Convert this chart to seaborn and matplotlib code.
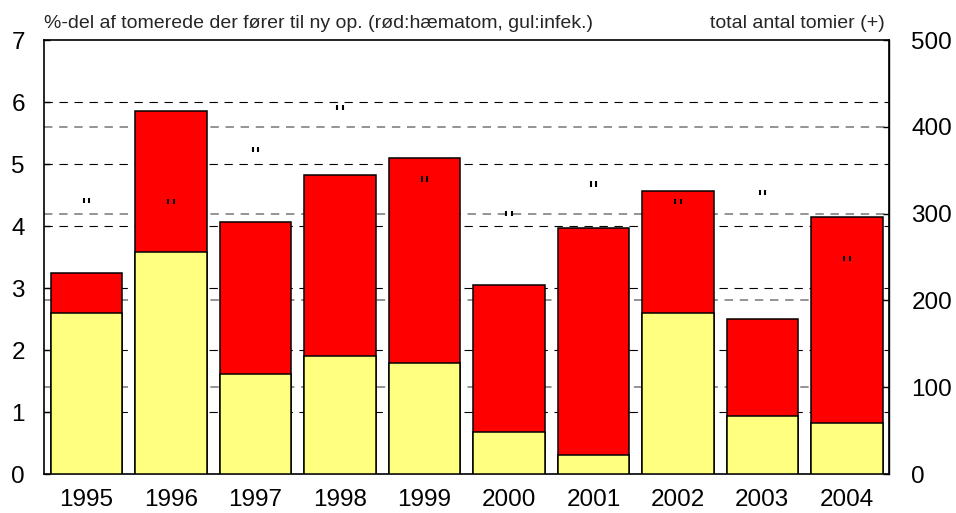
import numpy as np
import pandas as pd
import seaborn as sns
import matplotlib.pyplot as plt
from matplotlib.path import Path

years = ["1995", "1996", "1997", "1998", "1999", "2000", "2001", "2002", "2003", "2004"]
infek = [2.59, 3.58, 1.62, 1.91, 1.79, 0.67, 0.30, 2.59, 0.935, 0.82]
haematom = [0.65, 2.28, 2.45, 2.91, 3.30, 2.38, 3.66, 1.97, 1.57, 3.32]
tomier = [315, 314, 374, 422, 340, 300, 334, 314, 324, 248]

df = pd.DataFrame({"aar": years, "infek": infek, "haematom": haematom, "tomier": tomier})
df["total"] = df["infek"] + df["haematom"]

sns.set_style("white")
plt.rcParams["font.family"] = ["Liberation Sans", "DejaVu Sans"]

fig = plt.figure(figsize=(9.56, 5.13), dpi=100)
ax = fig.add_axes([0.0463, 0.076, 0.8837, 0.846])

# dashed gridlines, behind the bars
for v in range(1, 7):
    ax.axhline(v, color="black", lw=0.8, ls=(0, (7.5, 6)), zorder=0)
for v in np.arange(100, 500, 100) * 7 / 500:
    ax.axhline(v, color="#777777", lw=1.1, ls=(0, (5.5, 4.4)), zorder=0)

sns.barplot(data=df, x="aar", y="total", color="#ff0000", saturation=1,
            width=0.845, edgecolor="black", linewidth=1.1, ax=ax, zorder=2)
sns.barplot(data=df, x="aar", y="infek", color="#ffff80", saturation=1,
            width=0.845, edgecolor="black", linewidth=1.1, ax=ax, zorder=3)

ax.set_xlim(-0.5, len(years) - 0.5)
ax.set_ylim(0, 7)
ax.set_yticks(range(0, 8))
ax.set_xlabel("")
ax.set_ylabel("")
ax.tick_params(axis="y", direction="in", length=4, width=1, pad=14, labelsize=17.5, colors="black")
ax.tick_params(axis="x", length=0, pad=11, labelsize=17.5, colors="black")
for s in ax.spines.values():
    s.set_visible(True)
    s.set_color("black")
    s.set_linewidth(1.2)

# the "+" of the original shows up as a small double tick
tick_mark = Path([(-1, -1), (-1, 1), (1, -1), (1, 1)],
                 [Path.MOVETO, Path.LINETO, Path.MOVETO, Path.LINETO])

ax2 = ax.twinx()
ax2.set_ylim(0, 500)
ax2.set_yticks(range(0, 600, 100))
sns.scatterplot(data=df, x="aar", y="tomier", marker=tick_mark, s=15,
                facecolor="none", edgecolor="black", linewidth=1.5, ax=ax2, zorder=5)
ax2.set_ylabel("")
ax2.tick_params(axis="y", direction="in", length=4, width=1, pad=16, labelsize=17.5, colors="black")
for s in ax2.spines.values():
    s.set_visible(False)
ax2.spines["right"].set_visible(True)
ax2.spines["right"].set_linewidth(1.0)
ax2.spines["right"].set_color("black")

fig.text(0.046, 0.945, "%-del af tomerede der fører til ny op. (rød:hæmatom, gul:infek.)",
         fontsize=14, ha="left", va="baseline")
fig.text(0.925, 0.945, "total antal tomier (+)", fontsize=14, ha="right", va="baseline")

fig.savefig("out.png", dpi=100)
